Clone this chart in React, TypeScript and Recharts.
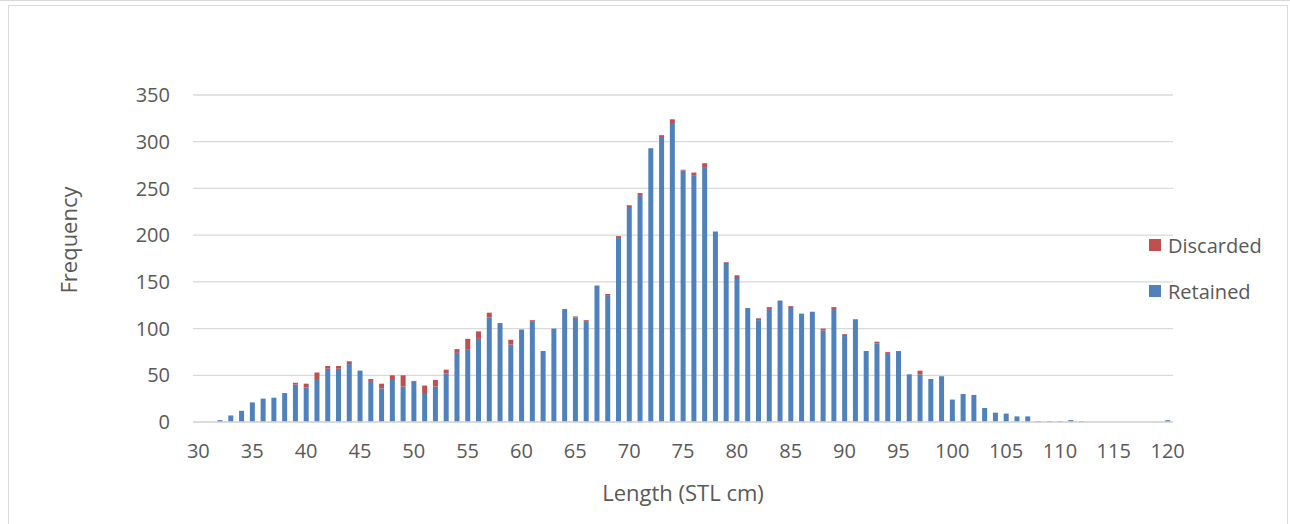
import React from 'react';
import { BarChart, Bar, XAxis, YAxis, CartesianGrid } from 'recharts';

const lengths = [
  30, 31, 32, 33, 34, 35, 36, 37, 38, 39,
  40, 41, 42, 43, 44, 45, 46, 47, 48, 49,
  50, 51, 52, 53, 54, 55, 56, 57, 58, 59,
  60, 61, 62, 63, 64, 65, 66, 67, 68, 69,
  70, 71, 72, 73, 74, 75, 76, 77, 78, 79,
  80, 81, 82, 83, 84, 85, 86, 87, 88, 89,
  90, 91, 92, 93, 94, 95, 96, 97, 98, 99,
  100, 101, 102, 103, 104, 105, 106, 107, 108, 109,
  110, 111, 112, 113, 114, 115, 116, 117, 118, 119,
  120,
];

const retained = [
  0, 0, 2, 7, 12, 21, 25, 26, 31, 40,
  37, 45, 57, 57, 62, 55, 44, 36, 45, 38,
  43, 30, 38, 52, 74, 78, 89, 112, 105, 83,
  99, 108, 76, 100, 120, 112, 108, 146, 135, 197,
  230, 242, 293, 305, 319, 269, 264, 272, 204, 169,
  154, 122, 109, 121, 130, 122, 116, 118, 98, 121,
  92, 110, 76, 84, 74, 75, 51, 51, 46, 49,
  24, 30, 29, 15, 10, 9, 6, 6, 1, 1,
  1, 2, 1, 0, 0, 0, 0, 0, 0, 0,
  2,
];

const discarded = [
  0, 0, 0, 0, 0, 0, 0, 0, 0, 2,
  4, 8, 3, 3, 3, 0, 2, 5, 5, 12,
  1, 9, 7, 4, 4, 11, 8, 5, 1, 5,
  0, 1, 0, 0, 1, 1, 1, 0, 2, 2,
  2, 3, 0, 2, 5, 1, 3, 5, 0, 2,
  3, 0, 2, 2, 0, 2, 0, 0, 2, 2,
  2, 0, 0, 2, 1, 1, 0, 4, 0, 0,
  0, 0, 0, 0, 0, 0, 0, 0, 0, 0,
  0, 0, 0, 0, 0, 0, 0, 0, 0, 0,
  0,
];

const xTicks = [30, 35, 40, 45, 50, 55, 60, 65, 70, 75, 80, 85, 90, 95, 100, 105, 110, 115, 120];
const yTicks = [0, 50, 100, 150, 200, 250, 300, 350];

const seriesRetained = { key: 'Retained', color: '#4F81BD' };
const seriesDiscarded = { key: 'Discarded', color: '#C0504D' };
const legendItems = [seriesDiscarded, seriesRetained];

const xTitle = 'Length (STL cm)';
const yTitle = 'Frequency';

const data = lengths.map((len, i) => ({
  len,
  Retained: retained[i],
  Discarded: discarded[i],
}));

const FONT = "'Open Sans', 'Liberation Sans', sans-serif";
const TEXT = '#595959';
const GRID = '#d9d9d9';

export default function App() {
  return (
    <div style={{ position: 'absolute', left: 0, top: 0, width: 1290, height: 524, background: '#fff', overflow: 'hidden' }}>
      <div style={{ position: 'absolute', left: 0, top: 0, width: 1290, height: 1, background: GRID }} />
      <div style={{ position: 'absolute', left: 8, top: 5, width: 1280, height: 530, border: `1.5px solid ${GRID}`, boxSizing: 'border-box' }} />
      <div style={{ position: 'absolute', left: 0, top: 0 }}>
        <BarChart
          width={1290}
          height={524}
          data={data}
          margin={{ top: 95, right: 117, bottom: 0, left: 0 }}
          barSize={5}
        >
          <CartesianGrid vertical={false} stroke={GRID} strokeWidth={1.3} />
          <XAxis
            dataKey="len"
            type="category"
            ticks={xTicks}
            interval={0}
            height={102}
            tickLine={false}
            tickSize={0}
            tickMargin={22}
            axisLine={{ stroke: GRID, strokeWidth: 1.3 }}
            tick={{ fill: TEXT, fontSize: 20, fontFamily: FONT }}
            label={{
              content: () => (
                <text x={683} y={492} textAnchor="middle" dominantBaseline="central" fill={TEXT} fontSize={22} fontFamily={FONT}>
                  {xTitle}
                </text>
              ),
            }}
          />
          <YAxis
            width={193}
            domain={[0, 350]}
            ticks={yTicks}
            interval={0}
            tickLine={false}
            axisLine={false}
            tickSize={0}
            tickMargin={23}
            tick={{ fill: TEXT, fontSize: 20, fontFamily: FONT }}
            label={{
              content: () => (
                <text x={68} y={240} transform="rotate(-90 68 240)" textAnchor="middle" dominantBaseline="central" fill={TEXT} fontSize={22} fontFamily={FONT}>
                  {yTitle}
                </text>
              ),
            }}
          />
          <Bar dataKey={seriesRetained.key} stackId="a" fill={seriesRetained.color} isAnimationActive={false} />
          <Bar dataKey={seriesDiscarded.key} stackId="a" fill={seriesDiscarded.color} isAnimationActive={false} />
        </BarChart>
      </div>
      {legendItems.map((item, i) => (
        <div
          key={item.key}
          style={{ position: 'absolute', left: 1149, top: 232 + i * 46, height: 26, display: 'flex', alignItems: 'center', fontFamily: FONT, fontSize: 20, color: TEXT }}
        >
          <span style={{ display: 'inline-block', width: 12, height: 12, background: item.color, marginRight: 7 }} />
          <span>{item.key}</span>
        </div>
      ))}
    </div>
  );
}
